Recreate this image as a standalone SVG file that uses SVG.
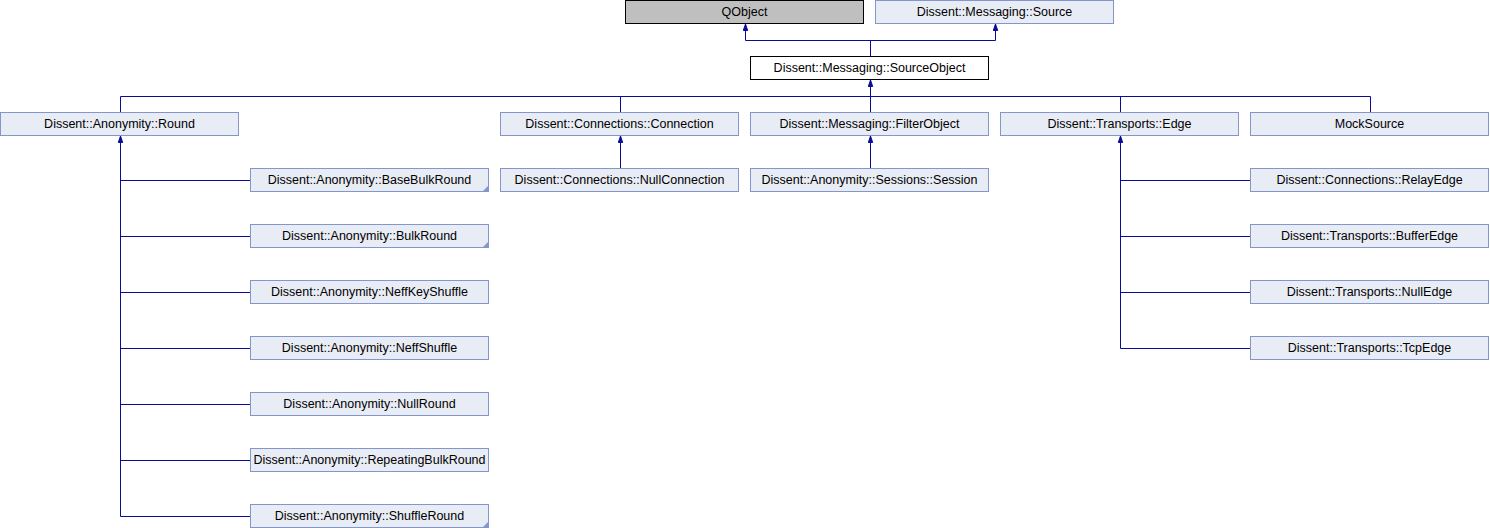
<svg xmlns="http://www.w3.org/2000/svg" width="1490" height="528" viewBox="0 0 1490 528">
<style>
.n rect{fill:#e8ecf5;stroke:#8496cc;stroke-width:1}
.g rect{fill:#bfbfbf;stroke:#000;stroke-width:1}
.w rect{fill:#fff;stroke:#000;stroke-width:1}
text{font-family:"Liberation Sans",Arial,sans-serif;font-size:12.5px;fill:#000;text-anchor:middle}
.e{fill:none;stroke:#0b0b99;stroke-width:1}
.tri{fill:#8496cc}
</style>
<defs>
<marker id="ah" markerWidth="8" markerHeight="6" refX="7" refY="3" orient="auto-start-reverse" markerUnits="userSpaceOnUse" viewBox="0 0 8 6">
<path d="M0.5,0.8 L7,3 L0.5,5.2 Z" fill="#0b0b99" stroke="#0b0b99" stroke-width="1"/>
</marker>
</defs>
<rect width="1490" height="528" fill="#fff"/>
<g id="edges">
<path class="e" d="M745.5,24 V40.5 H995.5 V24" marker-start="url(#ah)" marker-end="url(#ah)"/>
<path class="e" d="M870.5,40.5 V56"/>
<path class="e" d="M870.5,80 V96.5" marker-start="url(#ah)"/>
<path class="e" d="M120.5,112 V96.5 H1370.5 V112"/>
<path class="e" d="M620.5,96.5 V112 M1120.5,96.5 V112 M870.5,96.5 V112"/>
<path class="e" d="M620.5,136 V168" marker-start="url(#ah)"/>
<path class="e" d="M870.5,136 V168" marker-start="url(#ah)"/>
<path class="e" d="M120.5,136 V516.5" marker-start="url(#ah)"/>
<path class="e" d="M120.5,180.5 H250 M120.5,236.5 H250 M120.5,292.5 H250 M120.5,348.5 H250 M120.5,404.5 H250 M120.5,460.5 H250 M120.5,516.5 H250"/>
<path class="e" d="M1120.5,136 V348.5" marker-start="url(#ah)"/>
<path class="e" d="M1120.5,180.5 H1250 M1120.5,236.5 H1250 M1120.5,292.5 H1250 M1120.5,348.5 H1250"/>
</g>
<g id="QObject" class="g"><rect x="625.5" y="0.5" width="238" height="23"/><text x="744.5" y="15.5">QObject</text></g>
<g id="Source" class="n"><rect x="875.5" y="0.5" width="238" height="23"/><text x="994.5" y="15.5">Dissent::Messaging::Source</text></g>
<g id="SourceObject" class="w"><rect x="750.5" y="56.5" width="238" height="23"/><text x="869.5" y="71.5">Dissent::Messaging::SourceObject</text></g>
<g id="Round" class="n"><rect x="0.5" y="112.5" width="238" height="23"/><text x="119.5" y="127.5">Dissent::Anonymity::Round</text></g>
<g id="Connection" class="n"><rect x="500.5" y="112.5" width="238" height="23"/><text x="619.5" y="127.5">Dissent::Connections::Connection</text></g>
<g id="FilterObject" class="n"><rect x="750.5" y="112.5" width="238" height="23"/><text x="869.5" y="127.5">Dissent::Messaging::FilterObject</text></g>
<g id="Edge" class="n"><rect x="1000.5" y="112.5" width="238" height="23"/><text x="1119.5" y="127.5">Dissent::Transports::Edge</text></g>
<g id="MockSource" class="n"><rect x="1250.5" y="112.5" width="238" height="23"/><text x="1369.5" y="127.5">MockSource</text></g>
<g id="NullConnection" class="n"><rect x="500.5" y="168.5" width="238" height="23"/><text x="619.5" y="183.5">Dissent::Connections::NullConnection</text></g>
<g id="Session" class="n"><rect x="750.5" y="168.5" width="238" height="23"/><text x="869.5" y="183.5">Dissent::Anonymity::Sessions::Session</text></g>
<g id="BaseBulkRound" class="n"><rect x="250.5" y="168.5" width="238" height="23"/><text x="369.5" y="183.5">Dissent::Anonymity::BaseBulkRound</text><path class="tri" d="M489,185 V192 H482 Z"/></g>
<g id="BulkRound" class="n"><rect x="250.5" y="224.5" width="238" height="23"/><text x="369.5" y="239.5">Dissent::Anonymity::BulkRound</text><path class="tri" d="M489,241 V248 H482 Z"/></g>
<g id="NeffKeyShuffle" class="n"><rect x="250.5" y="280.5" width="238" height="23"/><text x="369.5" y="295.5">Dissent::Anonymity::NeffKeyShuffle</text></g>
<g id="NeffShuffle" class="n"><rect x="250.5" y="336.5" width="238" height="23"/><text x="369.5" y="351.5">Dissent::Anonymity::NeffShuffle</text></g>
<g id="NullRound" class="n"><rect x="250.5" y="392.5" width="238" height="23"/><text x="369.5" y="407.5">Dissent::Anonymity::NullRound</text></g>
<g id="RepeatingBulkRound" class="n"><rect x="250.5" y="448.5" width="238" height="23"/><text x="369.5" y="463.5">Dissent::Anonymity::RepeatingBulkRound</text></g>
<g id="ShuffleRound" class="n"><rect x="250.5" y="504.5" width="238" height="23"/><text x="369.5" y="519.5">Dissent::Anonymity::ShuffleRound</text><path class="tri" d="M489,521 V528 H482 Z"/></g>
<g id="RelayEdge" class="n"><rect x="1250.5" y="168.5" width="238" height="23"/><text x="1369.5" y="183.5">Dissent::Connections::RelayEdge</text></g>
<g id="BufferEdge" class="n"><rect x="1250.5" y="224.5" width="238" height="23"/><text x="1369.5" y="239.5">Dissent::Transports::BufferEdge</text></g>
<g id="NullEdge" class="n"><rect x="1250.5" y="280.5" width="238" height="23"/><text x="1369.5" y="295.5">Dissent::Transports::NullEdge</text></g>
<g id="TcpEdge" class="n"><rect x="1250.5" y="336.5" width="238" height="23"/><text x="1369.5" y="351.5">Dissent::Transports::TcpEdge</text></g>
</svg>
